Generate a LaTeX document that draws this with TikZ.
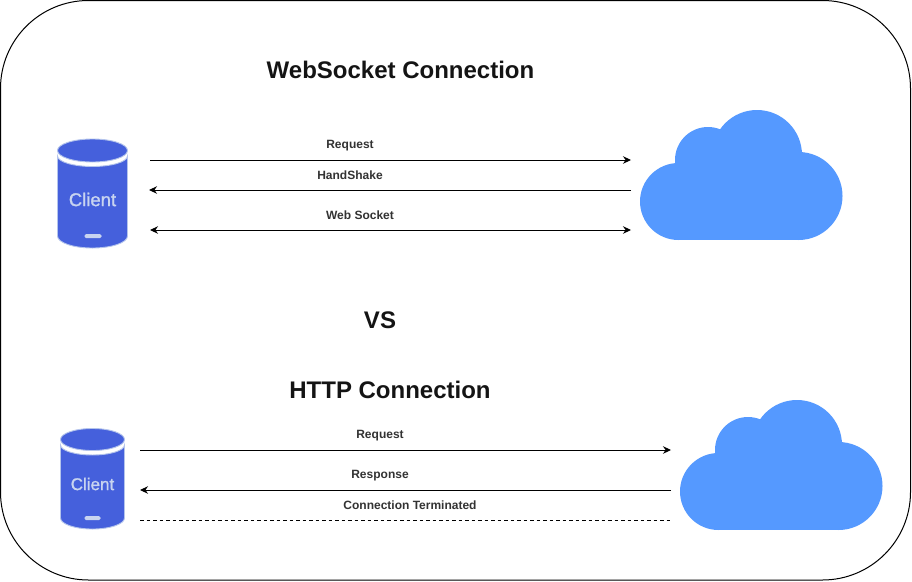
\documentclass[tikz,border=0pt]{standalone}
\usepackage{fontspec}
\setmainfont{Liberation Sans}
\newfontfamily\clientfont[FakeBold=1.2]{Liberation Sans}
\usetikzlibrary{arrows.meta}
\definecolor{cloudblue}{HTML}{5599FF}
\definecolor{dbblue}{HTML}{4560DC}
\definecolor{dbedge}{HTML}{B4C4EC}
\definecolor{dbtext}{HTML}{C8D4F0}
\tikzset{
  x=1pt,y=-1pt,
  frame/.style={draw=black,line width=1pt,fill=white,rounded corners=88pt},
  title/.style={font=\bfseries\fontsize{24}{28}\selectfont,inner sep=0pt,text=black!92},
  lbl/.style={font=\bfseries\fontsize{12}{14}\selectfont,inner sep=0pt,text=black!80},
  conn/.style={line width=1pt,black},
  oneway/.style={conn,-{Stealth[length=8pt,width=7.5pt]}},
  bothway/.style={conn,{Stealth[length=8pt,width=7.5pt]}-{Stealth[length=8pt,width=7.5pt]}},
  dashline/.style={conn,dash pattern=on 3.5pt off 3pt},
  clienttxt/.style={font=\clientfont\fontsize{#1}{#1}\selectfont,text=dbtext,inner sep=0pt},
  dbfill/.style={fill=dbblue,draw=dbedge,line width=.9pt},
  cloudshape/.style={fill=cloudblue,draw=none},
  pics/cloudicon/.style={code={
    \fill[cloudshape] (38.5,91.5) circle[radius=38.5];
    \fill[cloudshape] (68,50) circle[radius=33];
    \fill[cloudshape] (117,45) circle[radius=45];
    \fill[cloudshape] (158.5,86) circle[radius=44];
    \fill[cloudshape] (38.5,60) rectangle (158.5,130);
  }},
}
\begin{document}
\begin{tikzpicture}
\useasboundingbox (0,0) rectangle (912,581);
\draw[frame] (0.5,0.5) rectangle (910.5,580);

% top client
\draw[dbfill] (57.5,156) -- (57.5,236) arc[start angle=180,end angle=360,x radius=35pt,y radius=12pt] -- (127.5,156) arc[start angle=0,end angle=-180,x radius=35pt,y radius=10.5pt] -- cycle;
\draw[dbfill] (92.5,150.5) ellipse[x radius=35,y radius=11.5];
\fill[dbtext,rounded corners=1.5pt] (84.5,234) rectangle (101.5,238);
\node[clienttxt=18.5] (client1) at (92.5,199.5) {Client};

% top cloud
\path (640,110) pic {cloudicon};
\coordinate (cloud1a) at (631,160);
\coordinate (cloud1b) at (631,190);
\coordinate (cloud1c) at (631,230);
\coordinate (c1a) at (150,160);
\coordinate (c1b) at (149,190);
\coordinate (c1c) at (150,230);

\draw[oneway] (c1a) -- (cloud1a);
\draw[oneway] (cloud1b) -- (c1b);
\draw[bothway] (c1c) -- (cloud1c);

\node[title] (t1) at (400.5,70) {WebSocket Connection};
\node[lbl] (l1) at (350,146) {Request};
\node[lbl] (l2) at (350,175) {HandShake};
\node[lbl] (l3) at (360,215) {Web Socket};
\node[title] (vs) at (380,320) {VS};
\node[title] (t2) at (390,390) {HTTP Connection};

% bottom client
\draw[dbfill] (60.5,445) -- (60.5,518) arc[start angle=180,end angle=360,x radius=32pt,y radius=11pt] -- (124.5,445) arc[start angle=0,end angle=-180,x radius=32pt,y radius=10pt] -- cycle;
\draw[dbfill] (92.5,439.5) ellipse[x radius=32,y radius=11];
\fill[dbtext,rounded corners=1.5pt] (84.5,516) rectangle (100.5,520);
\node[clienttxt=17] (client2) at (92.5,484) {Client};

% bottom cloud
\path (680,400) pic {cloudicon};
\coordinate (c2a) at (140,450);
\coordinate (c2b) at (140,490);
\coordinate (c2c) at (140,520);
\coordinate (cloud2a) at (671,450);
\coordinate (cloud2b) at (671,490);
\coordinate (cloud2c) at (671,520);

\draw[oneway] (c2a) -- (cloud2a);
\draw[oneway] (cloud2b) -- (c2b);
\draw[dashline] (c2c) -- (cloud2c);

\node[lbl] (l4) at (380,436) {Request};
\node[lbl] (l5) at (380,475.5) {Response};
\node[lbl] (l6) at (410,505) {Connection Terminated};
\end{tikzpicture}
\end{document}
